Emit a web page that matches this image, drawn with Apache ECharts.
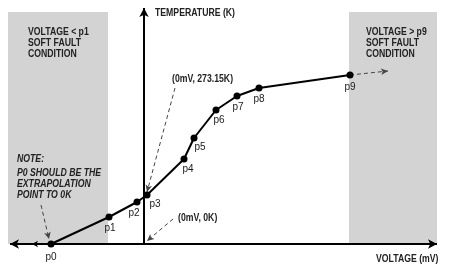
<!DOCTYPE html>
<html>
<head>
<meta charset="utf-8">
<script src="https://cdn.jsdelivr.net/npm/echarts@6/dist/echarts.min.js"></script>
<style>
  html, body { margin: 0; padding: 0; background: #fff; }
  #chart { width: 450px; height: 270px; }
</style>
</head>
<body>
<div id="chart"></div>
<script>
// schematic units: voltage (mV) and temperature (K), origin at (0mV, 0K)
const pointNames = ['p0', 'p1', 'p2', 'p3', 'p4', 'p5', 'p6', 'p7', 'p8', 'p9']
const voltage = [-93, -35, -7, 3, 40, 50, 72, 93, 115, 206]
const temperature = [0, 27, 42, 49, 85, 106, 134, 148, 156, 169]

// soft fault zones (voltage from / to, temperature top)
const lowFault = [-136, -36]
const highFault = [205, 293]
const faultTop = 232

// label offsets from each point (px)
const labelOffsets = [[0, 13], [1, 11], [-3, 11], [8, 9], [4, 10], [6, 9], [3, 10], [1, 11], [0, 11], [0, 12]]

const FONT = "'Liberation Sans', Arial, sans-serif"
const INK = '#000'

// condensed annotation text (original uses a narrow face)
function txt(x, y, text, opts) {
  return {
    type: 'text',
    x: x,
    y: y,
    z: 100,
    scaleX: 0.79,
    silent: true,
    style: Object.assign({
      text: text,
      fill: '#222',
      fontFamily: FONT,
      fontSize: 11,
      fontWeight: 'bold',
      lineHeight: 11,
      verticalAlign: 'top'
    }, opts || {})
  }
}

function dashed(from, to) {
  return [{ coord: from }, { coord: to }]
}

const option = {
  animation: false,
  grid: { left: 0, right: 0, top: 0, bottom: 0 },
  xAxis: { type: 'value', min: -144, max: 306, show: false },
  yAxis: { type: 'value', min: -26, max: 244, show: false },
  series: [
    // axes and fault zones
    {
      type: 'line',
      data: [],
      silent: true,
      markArea: {
        silent: true,
        itemStyle: { color: '#d3d3d3' },
        data: [
          [{ coord: [lowFault[0], 0] }, { coord: [lowFault[1], faultTop] }],
          [{ coord: [highFault[0], 0] }, { coord: [highFault[1], faultTop] }]
        ]
      },
      markLine: {
        silent: true,
        symbol: ['none', 'arrow'],
        symbolSize: [7, 9],
        label: { show: false },
        lineStyle: { color: INK, width: 2, type: 'solid' },
        data: [
          [{ coord: [-134, 0], symbol: 'arrow' }, { coord: [293, 0] }],
          [{ coord: [-105, 0], symbol: 'none' }, { coord: [-112, 0], symbolSize: [5, 6] }],
          [{ coord: [0, 0], symbol: 'none' }, { coord: [0, 236] }]
        ]
      }
    },
    // dashed pointers
    {
      type: 'line',
      data: [],
      silent: true,
      markLine: {
        silent: true,
        symbol: ['none', 'arrow'],
        symbolSize: [5, 7],
        label: { show: false },
        lineStyle: { color: '#444', width: 1, type: [4, 3] },
        data: [
          dashed([206, 169], [244, 173]),
          dashed([31, 156], [3, 52]),
          dashed([29, 25], [3, 3]),
          dashed([-103, 39], [-95, 5])
        ]
      }
    },
    // calibration curve
    {
      type: 'line',
      z: 5,
      symbol: 'circle',
      symbolSize: 7,
      lineStyle: { color: INK, width: 2 },
      itemStyle: { color: INK },
      data: voltage.map((v, i) => ({
        name: pointNames[i],
        value: [v, temperature[i]],
        label: { offset: labelOffsets[i] }
      })),
      label: {
        show: true,
        position: 'inside',
        formatter: p => p.name,
        color: '#1a1a1a',
        fontFamily: FONT,
        fontSize: 10
      }
    }
  ],
  graphic: [
    txt(155, 7, 'TEMPERATURE (K)'),
    txt(28, 26, 'VOLTAGE < p1\nSOFT FAULT\nCONDITION'),
    txt(366, 26, 'VOLTAGE > p9\nSOFT FAULT\nCONDITION'),
    txt(172, 73, '(0mV, 273.15K)'),
    txt(178, 212, '(0mV, 0K)'),
    txt(17, 153, 'NOTE:', { fontStyle: 'italic' }),
    txt(17, 167, 'P0 SHOULD BE THE\nEXTRAPOLATION\nPOINT TO 0K', { fontStyle: 'italic' }),
    txt(376, 253, 'VOLTAGE (mV)')
  ]
}

echarts.init(document.getElementById('chart')).setOption(option)
</script>
</body>
</html>
